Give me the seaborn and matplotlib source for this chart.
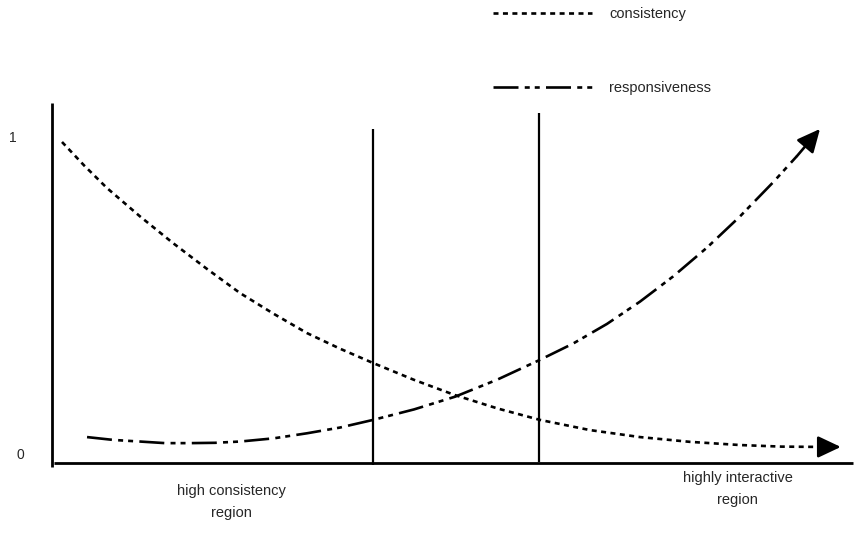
import matplotlib
matplotlib.use("Agg")
import matplotlib.pyplot as plt
import seaborn as sns
import pandas as pd

# ---- data (schematic units: x 0..100, y 0..1) ----
consistency_x = [1.25, 4.06, 6.88, 11.0, 15.13, 19.31, 23.5, 27.69, 31.88, 36.0,
                 40.13, 45.25, 50.38, 55.69, 61.0, 67.25, 73.5, 79.75, 86.0,
                 91.19, 96.38]
consistency_y = [0.978, 0.903, 0.833, 0.744, 0.660, 0.580, 0.503, 0.438, 0.377,
                 0.328, 0.283, 0.230, 0.182, 0.140, 0.104, 0.072, 0.050, 0.035,
                 0.025, 0.020, 0.019]
consistency_tip = (98.6, 0.019)

responsiveness_x = [4.38, 7.69, 11.0, 14.13, 17.25, 20.38, 23.5, 27.69, 31.88,
                    36.0, 40.13, 45.25, 50.38, 55.69, 61.0, 65.13, 69.38, 73.5,
                    77.63, 81.88, 86.0, 90.13, 93.13]
responsiveness_y = [0.050, 0.041, 0.036, 0.031, 0.031, 0.032, 0.036, 0.046,
                    0.062, 0.080, 0.104, 0.137, 0.177, 0.231, 0.293, 0.344,
                    0.406, 0.476, 0.555, 0.646, 0.744, 0.851, 0.934]
responsiveness_tip = (96.0, 1.019)

region_bounds = [40.1, 60.9]
region_tops = [1.019, 1.069]
y_tick_labels = ["0", "1"]
region_labels = ["high consistency\nregion", "highly interactive\nregion"]
region_label_x = [22.4, 85.7]
region_label_y = [-0.153, -0.113]

series_names = ["consistency", "responsiveness"]

# ---- style ----
sns.set_theme(style="white")
plt.rcParams["font.family"] = ["Liberation Sans", "DejaVu Sans"]
plt.rcParams["lines.scale_dashes"] = False

fig = plt.figure(figsize=(8.55, 5.46), dpi=100)
ax = fig.add_axes([0, 0, 1, 1])
ax.set_xlim(-6.5, 100.375)
ax.set_ylim(-0.2925, 1.4245)
ax.axis("off")

df = pd.concat([
    pd.DataFrame({"x": consistency_x, "y": consistency_y, "series": series_names[0]}),
    pd.DataFrame({"x": responsiveness_x, "y": responsiveness_y, "series": series_names[1]}),
])

dashes = {
    "consistency": (3.6, 3.2),
    "responsiveness": (18, 4.5, 3.6, 3.6, 3.6, 4.5),
}
sns.lineplot(data=df, x="x", y="y", style="series", dashes=dashes,
             color="black", linewidth=1.9, sort=False, estimator=None, ax=ax)

# arrows at curve ends
for xs, ys, tip in [(consistency_x, consistency_y, consistency_tip),
                    (responsiveness_x, responsiveness_y, responsiveness_tip)]:
    ax.annotate("", xy=tip, xytext=(xs[-1], ys[-1]),
                arrowprops=dict(arrowstyle="-|>,head_length=0.7,head_width=0.33",
                                color="black", lw=1.9, shrinkA=0, shrinkB=0,
                                mutation_scale=20))

# axes lines
ax.plot([0, 0], [-0.044, 1.101], color="black", lw=2.0, solid_capstyle="butt")
ax.plot([0.2, 100.1], [-0.0305, -0.0305], color="black", lw=2.0, solid_capstyle="butt")

# region boundaries
ax.plot([region_bounds[0]] * 2, [-0.038, region_tops[0]], color="black", lw=1.6,
        solid_capstyle="butt")
ax.plot([region_bounds[1]] * 2, [-0.028, region_tops[1]], color="black", lw=1.6,
        solid_capstyle="butt")

# y labels
ax.text(-3.9, -0.006, y_tick_labels[0], fontsize=10, ha="center", va="center")
ax.text(-4.9, 0.99, y_tick_labels[1], fontsize=10, ha="center", va="center")

# region labels
for lab, lx, ly in zip(region_labels, region_label_x, region_label_y):
    ax.text(lx, ly, lab, fontsize=10.5, ha="center", va="center", linespacing=1.75)

# legend
sns.move_legend(ax, loc="upper left", bbox_to_anchor=(493 / 855, 1 - 7 / 546),
                bbox_transform=fig.transFigure, frameon=False, title=None,
                fontsize=10.5, handlelength=6.8, handletextpad=1.15,
                labelspacing=4.09, borderpad=0, borderaxespad=0)

fig.savefig("out.png", dpi=100)
